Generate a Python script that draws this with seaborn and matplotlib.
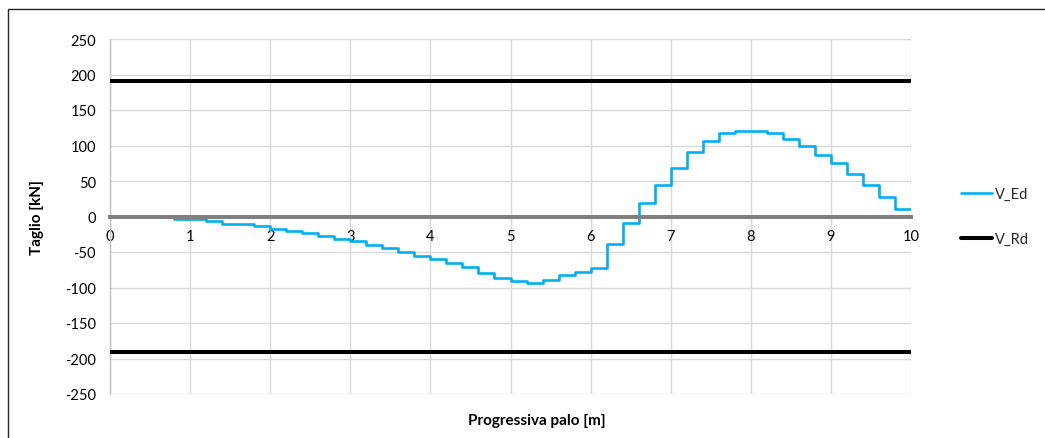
import matplotlib
matplotlib.use("Agg")
import matplotlib.pyplot as plt
import seaborn as sns
import pandas as pd
import numpy as np
from matplotlib.lines import Line2D
from matplotlib.patches import Rectangle

# --- data ---
step_start = [0.0, 0.2, 0.4, 0.6, 0.8, 1.0, 1.2, 1.4, 1.6, 1.8,
              2.0, 2.2, 2.4, 2.6, 2.8, 3.0, 3.2, 3.4, 3.6, 3.8,
              4.0, 4.2, 4.4, 4.6, 4.8, 5.0, 5.2, 5.4, 5.6, 5.8,
              6.0, 6.2, 6.4, 6.6, 6.8, 7.0, 7.2, 7.4, 7.6, 7.8,
              8.0, 8.2, 8.4, 8.6, 8.8, 9.0, 9.2, 9.4, 9.6, 9.8, 10.0]
v_ed = [0, -0.3, -0.5, -1, -3, -3, -6, -10, -11, -14,
        -17, -20, -23, -27, -32, -35, -40, -44, -50, -55,
        -60, -66, -71, -79, -86, -91, -93, -90, -83, -78,
        -73, -39, -9, 19, 44, 68, 91, 107, 117, 121,
        121, 118, 109, 99, 87, 75, 60, 45, 27, 10, 10]
v_rd_pos = 191
v_rd_neg = -191
x_range = [0, 10]
y_ticks = [-250, -200, -150, -100, -50, 0, 50, 100, 150, 200, 250]
x_ticks = [0, 1, 2, 3, 4, 5, 6, 7, 8, 9, 10]

sns.set_theme(style="white")
plt.rcParams['font.family'] = ['Lato', 'DejaVu Sans']

W, H = 1045, 439
fig = plt.figure(figsize=(W / 100, H / 100), dpi=100)
ax = fig.add_axes([110 / W, 1 - 395 / H, (911 - 110) / W, (395 - 40) / H])

# outer chart border (only top/left visible)
fig.patches.append(Rectangle((8 / W, -0.1), 1.2, 1 - 10 / H + 0.1,
                             transform=fig.transFigure, fill=False,
                             edgecolor='#262626', linewidth=1.0, zorder=0))

df_ed = pd.DataFrame({"x": step_start, "V_Ed": v_ed})
df_rd = pd.DataFrame({"x": x_range * 2,
                      "V": [v_rd_pos, v_rd_pos, v_rd_neg, v_rd_neg],
                      "g": ["p", "p", "n", "n"]})

sns.lineplot(data=df_ed, x="x", y="V_Ed", ax=ax, color="#00B0F0",
             linewidth=1.9, drawstyle="steps-post", zorder=3, legend=False)
for g, sub in df_rd.groupby("g"):
    sns.lineplot(data=sub, x="x", y="V", ax=ax, color="black",
                 linewidth=2.9, zorder=4, legend=False)

ax.set_xlim(0, 10)
ax.set_ylim(-250, 250)
ax.set_xticks(x_ticks)
ax.set_yticks(y_ticks)
ax.set_xticklabels([str(t) for t in x_ticks])
ax.set_yticklabels([str(t) for t in y_ticks])
ax.grid(True, color="#d9d9d9", linewidth=1.0, zorder=0)
ax.set_axisbelow(True)

for s in ["top", "right"]:
    ax.spines[s].set_visible(False)
ax.spines["left"].set_color("#bfbfbf")
ax.spines["left"].set_linewidth(1.0)
ax.spines["bottom"].set_position(("data", 0))
ax.spines["bottom"].set_color("#808080")
ax.spines["bottom"].set_linewidth(2.9)
ax.spines["bottom"].set_zorder(5)

ax.tick_params(axis="x", length=0, pad=9, labelsize=10.5, colors="black")
ax.tick_params(axis="y", length=0, pad=10, labelsize=10.5, colors="black")
for lbl in ax.get_xticklabels():
    lbl.set_zorder(6)
ax.set_xlabel("")
ax.set_ylabel("")

fig.text(537 / W, 1 - 421 / H, "Progressiva palo [m]", ha="center", va="center",
         fontsize=11, fontweight="bold", color="black")
fig.text(37 / W, 1 - 218 / H, "Taglio [kN]", ha="center", va="center",
         rotation=90, fontsize=11, fontweight="bold", color="black")

handles = [Line2D([0], [0], color="#00B0F0", linewidth=1.9),
           Line2D([0], [0], color="black", linewidth=2.9)]
fig.legend(handles, ["V_Ed", "V_Rd"], loc="center left",
           bbox_to_anchor=(954 / W, 1 - 217.5 / H), frameon=False,
           fontsize=10.5, handlelength=2.1, handletextpad=0.2,
           labelspacing=2.1, borderpad=0)

fig.savefig("out.png", dpi=100)
